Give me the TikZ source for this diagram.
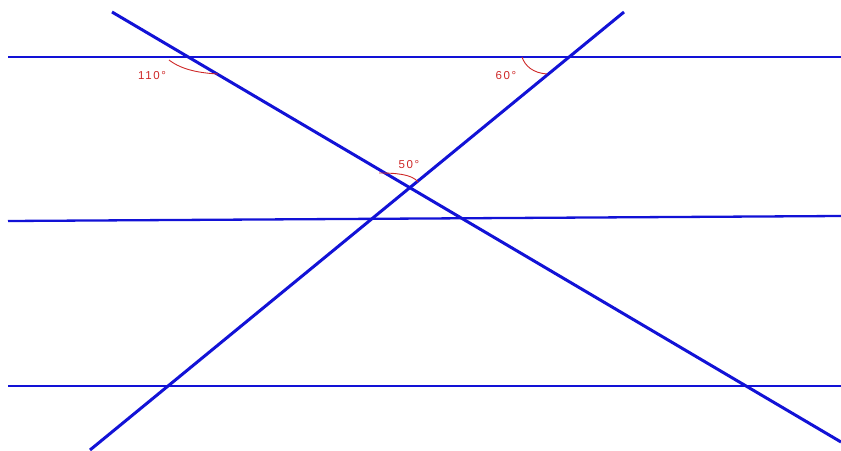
\documentclass[tikz,border=0pt]{standalone}
\usepackage{fontspec}
\newfontfamily\anglefont[LetterSpace=14]{Liberation Sans}
\definecolor{lineblue}{RGB}{18,18,214}
\definecolor{markred}{RGB}{206,40,40}

\begin{document}
\begin{tikzpicture}[x=1pt,y=-1pt,
  rule/.style={draw=lineblue,line width=2.3pt},
  transversal/.style={draw=lineblue,line width=3pt},
  anglemark/.style={draw=markred,line width=0.9pt},
  anglelabel/.style={text=markred,font=\anglefont\fontsize{11.5}{13}\selectfont,inner sep=0pt}]
  \useasboundingbox (0,0) rectangle (841,450);
  % the three parallels
  \coordinate (topL) at (8,57);   \coordinate (topR) at (841,57);
  \coordinate (midL) at (8,221);  \coordinate (midR) at (841,216);
  \coordinate (botL) at (8,386);  \coordinate (botR) at (841,386);
  \draw[rule] (topL) -- (topR);
  \draw[rule] (midL) -- (midR);
  \draw[rule] (botL) -- (botR);
  % the two transversals
  \coordinate (downA) at (112,12);  \coordinate (downB) at (841,442);
  \coordinate (upA) at (624,12);    \coordinate (upB) at (90,450);
  \draw[transversal] (downA) -- (downB);
  \draw[transversal] (upA) -- (upB);
  % angle marks
  \draw[anglemark] (169,60) .. controls (182,70) and (200,73) .. (218,74);
  \node[anglelabel] (t110) at (152,76) {110°};
  \draw[anglemark] (522,57) .. controls (525,66) and (533,73) .. (547,74);
  \node[anglelabel] (t60) at (506,76) {60°};
  \draw[anglemark] (379,173) .. controls (395,173) and (412,174) .. (418,182);
  \node[anglelabel] (t50) at (409,165) {50°};
\end{tikzpicture}
\end{document}
